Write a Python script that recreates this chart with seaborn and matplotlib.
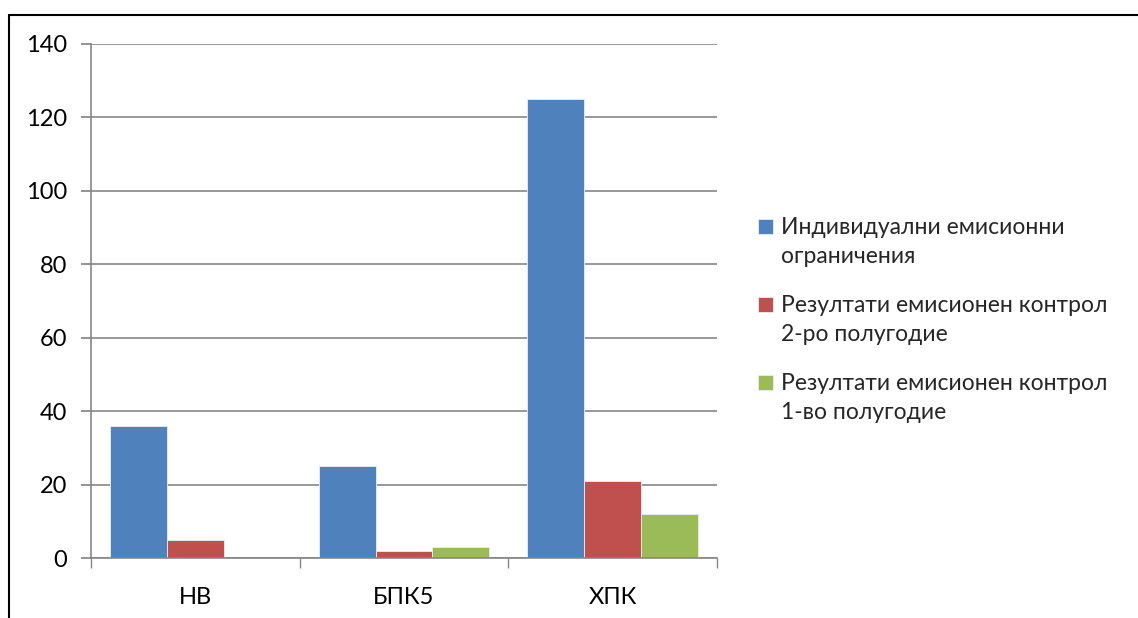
import pandas as pd
import matplotlib.pyplot as plt
import seaborn as sns
from matplotlib.lines import Line2D

# Данни от графиката
kategorii = ["НВ", "БПК5", "ХПК"]
serii = ["Индивидуални емисионни\nограничения",
         "Резултати емисионен контрол\n2-ро полугодие",
         "Резултати емисионен контрол\n1-во полугодие"]
ogranicheniya = [36, 25, 125]
polugodie_2 = [5, 2, 21]
polugodie_1 = [0, 3, 12]
boi = ["#4F81BD", "#C0504D", "#9BBB59"]

df = pd.DataFrame({
    "Показател": kategorii * 3,
    "Серия": [serii[0]] * 3 + [serii[1]] * 3 + [serii[2]] * 3,
    "Стойност": ogranicheniya + polugodie_2 + polugodie_1,
})

sns.set_theme(style="white")
plt.rcParams['font.family'] = ['Lato', 'DejaVu Sans']

fig = plt.figure(figsize=(11.38, 6.18), dpi=100)
ax = fig.add_axes([0.080, 0.097, 0.550, 0.832])

sns.barplot(data=df, x="Показател", y="Стойност", hue="Серия",
            palette=boi, width=0.818, saturation=1, linewidth=0.6,
            edgecolor="#e8eef6", ax=ax)

ax.set_xlim(-0.5, 2.5)
ax.set_ylim(0, 140)
ax.set_yticks(range(0, 141, 20))
ax.set_xlabel("")
ax.set_ylabel("")
ax.yaxis.grid(True, color="#868686", linewidth=1.2)
ax.set_axisbelow(True)
for s in ["top", "right"]:
    ax.spines[s].set_visible(False)
for s in ["left", "bottom"]:
    ax.spines[s].set_color("#868686")
    ax.spines[s].set_linewidth(1.2)

ax.tick_params(axis="y", left=True, length=7, color="#868686", labelsize=17, pad=10)
ax.tick_params(axis="x", bottom=False, labelsize=17, pad=15)
ax.set_xticks([-0.5, 0.5, 1.5, 2.5], minor=True)
ax.tick_params(axis="x", which="minor", bottom=True, length=7, color="#868686")
for t in ax.get_xticklabels() + ax.get_yticklabels():
    t.set_color("black")

leg = ax.legend(loc="center left", bbox_to_anchor=(0.648, 0.482),
                bbox_transform=fig.transFigure, frameon=False, fontsize=16.5,
                handlelength=0.65, handleheight=0.65, handletextpad=0.35,
                labelspacing=1.2)
for t in leg.get_texts():
    t.set_linespacing(1.5)
# квадратчетата в легендата — до първия ред на текста
for h in leg.legend_handles:
    h.set_y(h.get_y() + 11.5)

# рамка на диаграмата (горе и вляво)
fig.add_artist(Line2D([0.008, 1.0], [0.976, 0.976], color="black", linewidth=1.5))
fig.add_artist(Line2D([0.008, 0.008], [0.0, 0.976], color="black", linewidth=1.5))

plt.savefig("out.png", dpi=100)
